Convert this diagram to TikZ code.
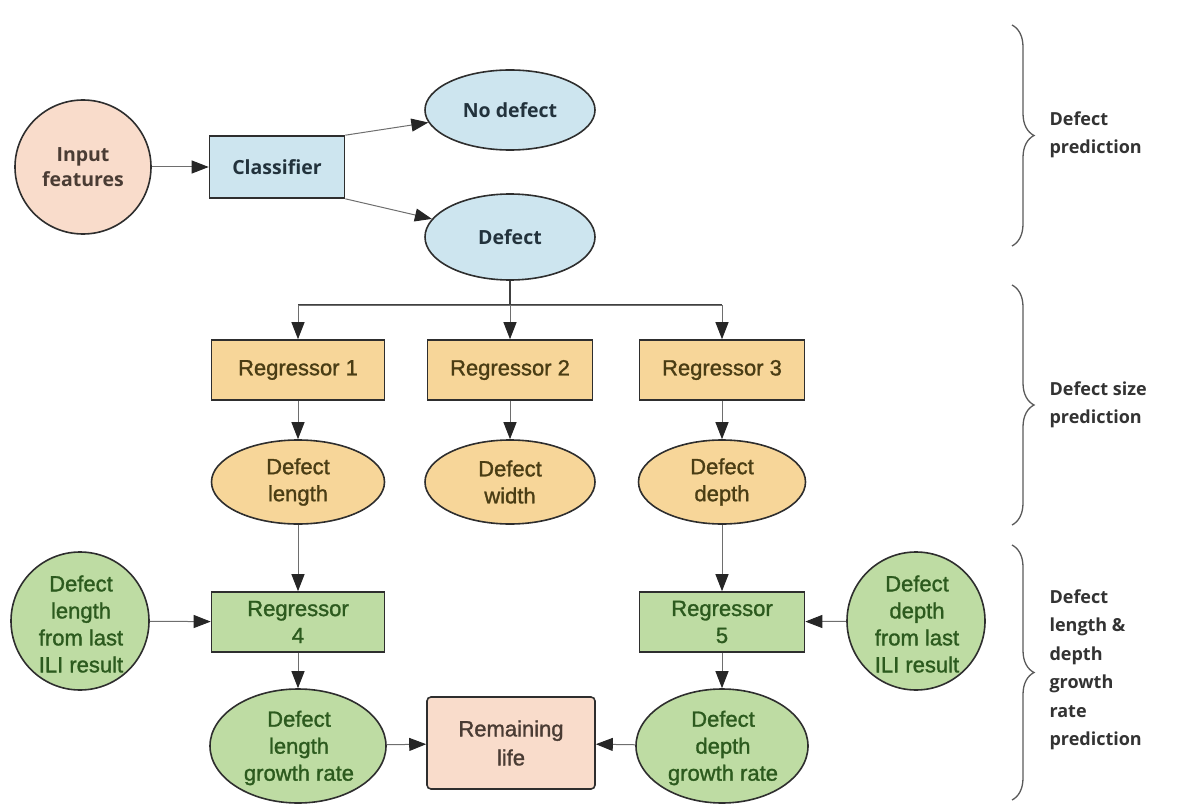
\documentclass[tikz,border=0pt]{standalone}
\usepackage{fontspec}
\setmainfont{Liberation Sans}
\newfontfamily\medsans[FakeBold=1.3]{Liberation Sans}
\newfontfamily\osans{Open Sans}
\usetikzlibrary{shapes.geometric,arrows.meta,decorations.pathreplacing}
\definecolor{peach}{HTML}{F9DCCB}
\definecolor{lblue}{HTML}{CDE5EF}
\definecolor{lorange}{HTML}{F7D699}
\definecolor{lgreen}{HTML}{BEDCA3}
\definecolor{bordercol}{HTML}{2E2E2E}
\definecolor{linegray}{HTML}{6E6E6E}
\definecolor{bluetext}{HTML}{22323C}
\definecolor{browntext}{HTML}{4A3C34}
\definecolor{orangetext}{HTML}{4A3D14}
\definecolor{greentext}{HTML}{2C5A1E}
\definecolor{bracecol}{HTML}{5A5A5A}
\definecolor{labeltext}{HTML}{333333}
\begin{document}
\begin{tikzpicture}[x=1pt,y=-1pt,
  shp/.style={draw=bordercol, line width=1.6pt, inner sep=0pt},
  ell/.style={shp, ellipse},
  rect/.style={shp, rectangle},
  bluefill/.style={fill=lblue},
  orfill/.style={fill=lorange},
  grfill/.style={fill=lgreen},
  pefill/.style={fill=peach},
  bluetxt/.style={text=bluetext, font=\osans\bfseries\fontsize{19.5}{24}\selectfont, align=center},
  inptxt/.style={text=browntext, font=\osans\bfseries\fontsize{19.5}{25}\selectfont, align=center},
  ortxt/.style={text=orangetext, font=\medsans\fontsize{22}{27}\selectfont, align=center},
  grtxt/.style={text=greentext, font=\medsans\fontsize{22}{27}\selectfont, align=center},
  rltxt/.style={text=browntext, font=\medsans\fontsize{22}{29}\selectfont, align=center},
  labtxt/.style={text=labeltext, font=\osans\bfseries\fontsize{18}{28.5}\selectfont, align=left, anchor=west},
  arr/.style={draw=linegray, line width=1pt, -{Triangle[length=17pt,width=13pt,color=black!85]}},
  bracestyle/.style={draw=bracecol, line width=1.3pt, decorate, decoration={brace, amplitude=22pt}},
]
\useasboundingbox (0,0) rectangle (1183,805);

% defect prediction
\node[ell, pefill, minimum width=136pt, minimum height=134pt] (inp) at (83,167) {};
\node[inptxt] (inpt) at (inp) {Input\\features};
\node[rect, bluefill, minimum width=135pt, minimum height=62pt, bluetxt] (cls) at (277,167) {Classifier};
\node[ell, bluefill, minimum width=170pt, minimum height=80pt, bluetxt] (nodef) at (510,110) {No defect};
\node[ell, bluefill, minimum width=170pt, minimum height=86pt, bluetxt] (def) at (510,237) {Defect};

% defect size prediction
\node[rect, orfill, minimum width=173pt, minimum height=60pt, ortxt] (reg1) at (298,370) {Regressor 1};
\node[rect, orfill, minimum width=165pt, minimum height=60pt, ortxt] (reg2) at (510,370) {Regressor 2};
\node[rect, orfill, minimum width=165pt, minimum height=60pt, ortxt] (reg3) at (722,370) {Regressor 3};
\node[ell, orfill, minimum width=173pt, minimum height=84pt, ortxt] (len) at (298,482) {Defect\\length};
\node[ell, orfill, minimum width=170pt, minimum height=84pt, ortxt] (wid) at (510,482) {Defect\\width};
\node[ell, orfill, minimum width=167pt, minimum height=84pt, ortxt] (dep) at (722,482) {Defect\\depth};

% growth rate prediction
\node[ell, grfill, minimum width=138pt, minimum height=138pt] (ili1) at (80,621) {};
\node[grtxt] (ili1t) at (81,624) {Defect\\length\\from last\\ILI result};
\node[ell, grfill, minimum width=138pt, minimum height=138pt] (ili2) at (916,621) {};
\node[grtxt] (ili2t) at (917,624) {Defect\\depth\\from last\\ILI result};
\node[rect, grfill, minimum width=173pt, minimum height=60pt, grtxt] (reg4) at (298,622) {Regressor\\4};
\node[rect, grfill, minimum width=165pt, minimum height=60pt, grtxt] (reg5) at (722,622) {Regressor\\5};
\node[ell, grfill, minimum width=176pt, minimum height=114pt] (lgr) at (298,746) {};
\node[grtxt] (lgrt) at (299,748) {Defect\\length\\growth rate};
\node[ell, grfill, minimum width=172pt, minimum height=114pt] (dgr) at (722,746) {};
\node[grtxt] (dgrt) at (723,748) {Defect\\depth\\growth rate};
\node[rect, pefill, rounded corners=4pt, minimum width=168pt, minimum height=92pt, rltxt] (rl) at (511,743) {Remaining\\life};

% connectors
\draw[arr] (inp) -- (cls);
\draw[arr] (cls.north east) -- (nodef);
\draw[arr] (cls.south east) -- (def);
\coordinate (split) at (510,305);
\draw[draw=black!75, line width=2pt] (def.south) -- (split);
\draw[draw=black!75, line width=2pt] (reg1.north |- split) -- (reg3.north |- split);
\draw[arr] (split) -| (reg1.north);
\draw[arr] (split) -- (reg2.north);
\draw[arr] (split) -| (reg3.north);
\draw[arr] (reg1) -- (len);
\draw[arr] (reg2) -- (wid);
\draw[arr] (reg3) -- (dep);
\draw[arr] (len) -- (reg4);
\draw[arr] (dep) -- (reg5);
\draw[arr] (ili1) -- (reg4);
\draw[arr] (ili2) -- (reg5);
\draw[arr] (reg4) -- (lgr);
\draw[arr] (reg5) -- (dgr);
\draw[arr] (lgr) -- (rl);
\draw[arr] (dgr) -- (rl);

% braces
\coordinate (b1t) at (1012,25);  \coordinate (b1b) at (1012,246);
\coordinate (b2t) at (1012,285); \coordinate (b2b) at (1012,525);
\coordinate (b3t) at (1012,545); \coordinate (b3b) at (1012,800);
\draw[bracestyle] (b1t) -- (b1b);
\draw[bracestyle] (b2t) -- (b2b);
\draw[bracestyle] (b3t) -- (b3b);
\node[labtxt] (lab1) at (1046,135) {Defect\\prediction};
\node[labtxt] (lab2) at (1046,405) {Defect size\\prediction};
\node[labtxt] (lab3) at (1046,670) {Defect\\length \&\\depth\\growth\\rate\\prediction};
\end{tikzpicture}
\end{document}
